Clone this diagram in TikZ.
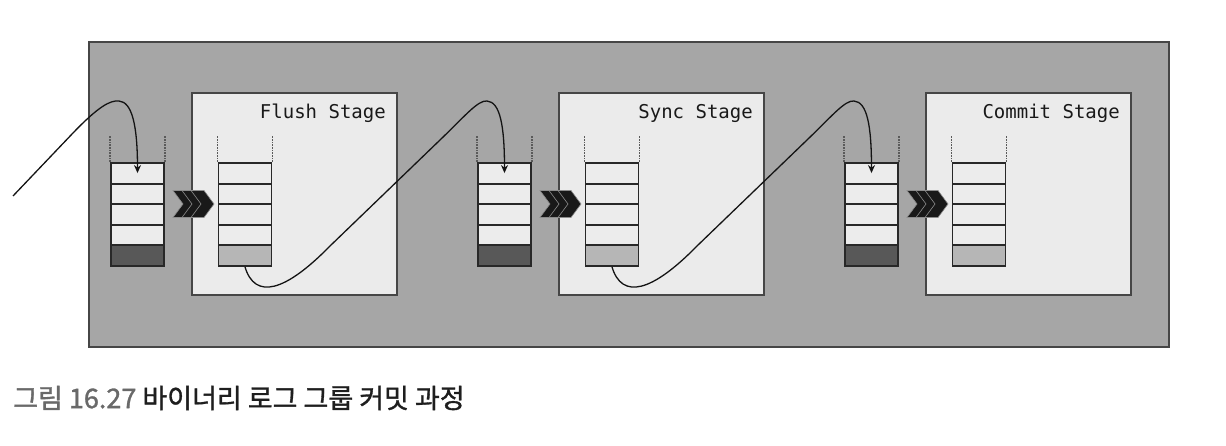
\documentclass[tikz,border=0pt]{standalone}
\usepackage{fontspec}
\newfontfamily\stagefont{DejaVu Sans Mono}
\newfontfamily\capfont[FakeBold=1.2]{Noto Sans CJK KR}
\usetikzlibrary{arrows.meta}

\begin{document}
\begin{tikzpicture}[x=1pt,y=1pt,yscale=-1,xscale=1,
  stagebox/.style={draw={rgb, 255:red, 70; green, 70; blue, 70}, fill={rgb, 255:red, 235; green, 235; blue, 235}, line width=1.5pt, minimum width=205pt, minimum height=202pt, inner sep=0pt},
  stagelabel/.style={anchor=base east, inner sep=0pt, font=\stagefont\fontsize{19}{22}\selectfont, text={rgb, 255:red, 25; green, 25; blue, 25}},
  cell/.style={draw={rgb, 255:red, 40; green, 40; blue, 40}, fill={rgb, 255:red, 236; green, 236; blue, 236}, line width=1.9pt, minimum width=53pt, minimum height=20.6pt, inner sep=0pt},
  waitcell/.style={cell, fill={rgb, 255:red, 88; green, 88; blue, 88}},
  donecell/.style={cell, fill={rgb, 255:red, 182; green, 182; blue, 182}},
  dots/.style={draw={rgb, 255:red, 90; green, 90; blue, 90}, line width=1.2pt, dash pattern={on 0.8pt off 0.8pt}},
  chev/.style={fill={rgb, 255:red, 25; green, 25; blue, 25}, draw={rgb, 255:red, 140; green, 140; blue, 140}, line width=0.6pt},
  flow/.style={draw={rgb, 255:red, 20; green, 20; blue, 20}, line width=1.3pt, -{Stealth[length=8pt,width=7pt]}}
]
\useasboundingbox (0,0) rectangle (1226,446);

%Group box
\draw [color={rgb, 255:red, 70; green, 70; blue, 70}, fill={rgb, 255:red, 166; green, 166; blue, 166}, line width=1.5pt] (89,42) rectangle (1169,347);

%Stages with their queues
\foreach \o/\nm/\stg in {0/flush/Flush Stage, 367/sync/Sync Stage, 734/commit/Commit Stage}{
  \node [stagebox] (\nm) at (294.5+\o,194) {};
  \node [stagelabel] (\nm lbl) at (386+\o,119) {\stg};
  % queue waiting in front of the stage
  \foreach \i in {1,...,4}
    \node [cell] (\nm a\i) at (137.5+\o,152.7+20.6*\i) {};
  \node [waitcell] (\nm a5) at (137.5+\o,255.7) {};
  % queue inside the stage
  \foreach \i in {1,...,4}
    \node [cell] (\nm b\i) at (245+\o,152.7+20.6*\i) {};
  \node [donecell] (\nm b5) at (245+\o,255.7) {};
  \draw [dots] (\nm a1.north west) -- ++(0,-26);
  \draw [dots] (\nm a1.north east) -- ++(0,-26);
  \draw [dots] (\nm b1.north west) -- ++(0,-26);
  \draw [dots] (\nm b1.north east) -- ++(0,-26);
  \coordinate (\nm tip) at ([yshift=11pt]\nm a1.north);
  % chevrons
  \foreach \s in {0,9,18}
    \draw [chev] (173+\o+\s,190.5) -- ++(13,0) -- ++(10,13.5) -- ++(-10,13.5) -- ++(-13,0) -- ++(10,-13.5) -- cycle;
}

%Incoming transaction
\coordinate (start) at (13,196);
\draw [flow] (start) -- (73,133) .. controls (98,107) and (110,100) .. (119,101) .. controls (132,102) and (137.5,125) .. (flushtip);

%Hand over to the next stage
\foreach \a/\b/\o in {flush/sync/0, sync/commit/367}
  \draw [flow] (\a b5.south) .. controls (255+\o,300) and (285+\o,292) .. (330+\o,246) -- (440+\o,140) .. controls (465+\o,116) and (478+\o,100) .. (487+\o,101) .. controls (500+\o,102) and (504.5+\o,125) .. (\b tip);

% Caption
\node [anchor=west, inner sep=0pt, font=\capfont\fontsize{27}{31}\selectfont, text={rgb, 255:red, 30; green, 30; blue, 30}] (caption) at (13,398) {\textcolor[RGB]{105,105,105}{그림 16.27} 바이너리 로그 그룹 커밋 과정};

\end{tikzpicture}
\end{document}
